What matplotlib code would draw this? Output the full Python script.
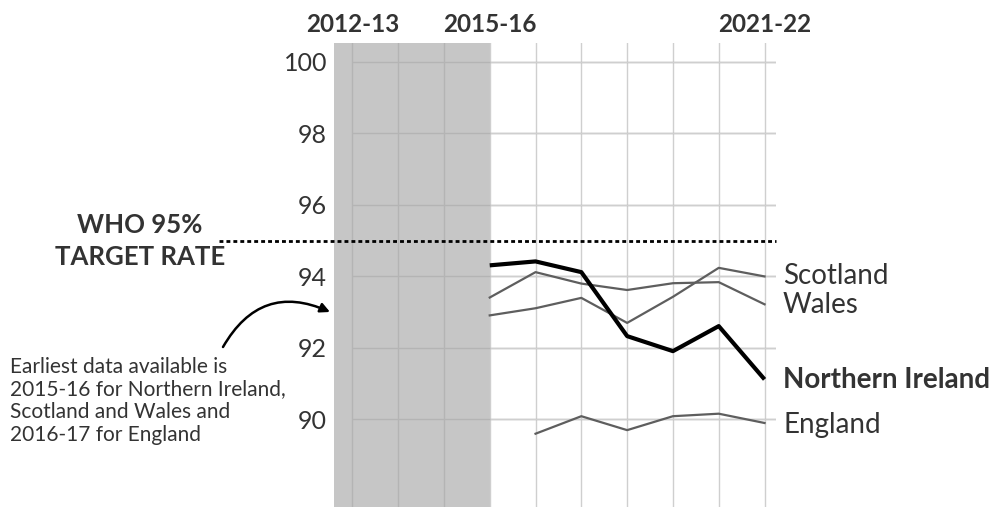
import numpy as np
import matplotlib
matplotlib.use("Agg")
import matplotlib.pyplot as plt

plt.rcParams['font.family'] = ['Lato', 'DejaVu Sans']

# Data
years = ['2012-13', '2013-14', '2014-15', '2015-16', '2016-17', '2017-18',
         '2018-19', '2019-20', '2020-21', '2021-22']
ni_years = years[3:]
ni = [94.31, 94.42, 94.12, 92.33, 91.91, 92.61, 91.12]
scotland = [92.91, 93.11, 93.40, 92.70, 93.43, 94.24, 94.00]
wales = [93.41, 94.12, 93.80, 93.62, 93.81, 93.84, 93.22]
eng_years = years[4:]
england = [89.60, 90.09, 89.70, 90.09, 90.16, 89.90]
target = 95
yticks = [90, 92, 94, 96, 98, 100]
top_labels = ['2012-13', '2015-16', '2021-22']

txt = '#333333'
grey = '#5e5e5e'

fig = plt.figure(figsize=(9.92, 5.07), dpi=100)
ax = fig.add_axes([334 / 992, 0, 442 / 992, 464 / 507])

xpos = {y: i for i, y in enumerate(years)}
ax.set_xlim(-0.4, 9.25)
ax.set_ylim(87.55, 100.53)

# shaded period with no data
ax.axvspan(-0.4, xpos['2015-16'], color='#c6c6c6', lw=0, zorder=0)

# grid
for i in range(len(years)):
    c = '#b4b4b4' if i < xpos['2015-16'] else '#cfcfcf'
    ax.axvline(i, color=c, lw=1, zorder=1)
for v in yticks:
    ax.hlines(v, 0, 9.25, color='#b4b4b4', lw=1, zorder=1)
    ax.hlines(v, xpos['2015-16'], 9.25, color='#cfcfcf', lw=1, zorder=1.1)

# target line
ax.plot([-0.26, 1.0], [target, target], transform=ax.get_yaxis_transform(),
        color='black', lw=2, dashes=(1.4, 1.1), clip_on=False, zorder=3)

# series
xi = [xpos[y] for y in ni_years]
xe = [xpos[y] for y in eng_years]
ax.plot(xi, scotland, color=grey, lw=1.6, zorder=2)
ax.plot(xi, wales, color=grey, lw=1.6, zorder=2)
ax.plot(xe, england, color=grey, lw=1.6, zorder=2)
ax.plot(xi, ni, color='black', lw=3, zorder=4, solid_capstyle='butt')

# series labels (baselines)
def right_label(text, yval, bold=False):
    ax.annotate(text, xy=(1.0, yval), xycoords=ax.get_yaxis_transform(),
                xytext=(7, 0), textcoords='offset pixels', ha='left', va='baseline',
                fontsize=20, color=txt, fontweight='bold' if bold else 'normal',
                annotation_clip=False)

right_label('Scotland', 93.78)
right_label('Wales', 92.97)
right_label('Northern Ireland', 90.87, bold=True)
right_label('England', 89.61)

# axes styling
ax.set_yticks(yticks)
ax.set_yticklabels([str(v) for v in yticks], fontsize=18, color=txt)
ax.tick_params(axis='y', length=0, pad=5)
ax.set_xticks([])
for s in ax.spines.values():
    s.set_visible(False)
ax.patch.set_visible(False)

# top year labels, centred on their gridlines
for lab in top_labels:
    ax.annotate(lab, xy=(xpos[lab], 1.0), xycoords=ax.get_xaxis_transform(),
                xytext=(0, 11), textcoords='offset pixels', ha='center',
                va='baseline', fontsize=17.5, fontweight='bold', color=txt,
                annotation_clip=False)

# WHO target label
fig.text(140 / 992, 1 - 233 / 507, 'WHO 95%', ha='center', va='baseline',
         fontsize=18.5, fontweight='bold', color=txt)
fig.text(140 / 992, 1 - 265 / 507, 'TARGET RATE', ha='center', va='baseline',
         fontsize=18.5, fontweight='bold', color=txt)

# note + arrow
fig.text(10 / 992, 1 - 401 / 507,
         'Earliest data available is\n2015-16 for Northern Ireland,\n'
         'Scotland and Wales and\n2016-17 for England',
         ha='left', va='center', fontsize=15, color=txt, linespacing=1.18)
ax.annotate('', xy=(330, 507 - 312), xycoords='figure pixels',
            xytext=(223, 507 - 347), textcoords='figure pixels',
            arrowprops=dict(arrowstyle='-|>', color='black', lw=1.8,
                            connectionstyle='arc3,rad=-0.45',
                            mutation_scale=14, shrinkA=0, shrinkB=0))

fig.savefig('out.png', dpi=100)
